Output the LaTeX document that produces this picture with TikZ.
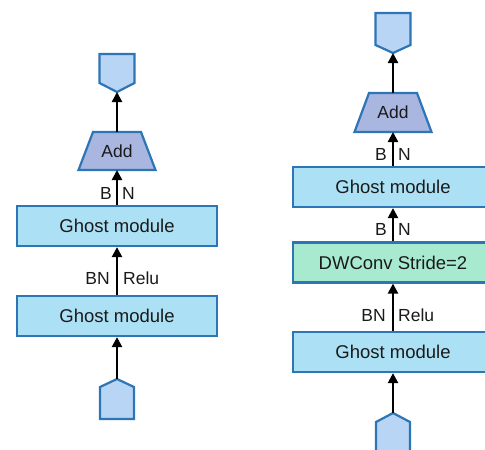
\documentclass[tikz,border=0pt]{standalone}
\usepackage{fontspec}
\setmainfont{Liberation Sans}
\usetikzlibrary{arrows.meta}

\definecolor{edge}{HTML}{2E75B6}
\definecolor{modfill}{HTML}{ACE1F5}
\definecolor{dwfill}{HTML}{A8EAD0}
\definecolor{portfill}{HTML}{B8D5F5}
\definecolor{addfill}{HTML}{A8B6E0}
\definecolor{ink}{HTML}{1A1A1A}

\tikzset{
  module/.style={draw=edge, line width=2.2pt, fill=modfill, minimum width=200pt,
    minimum height=40pt, inner sep=0pt, font=\fontsize{18.5}{20}\selectfont, text=ink},
  dwconv/.style={module, fill=dwfill},
  port/.style={draw=edge, line width=2.2pt, line join=miter, fill=portfill},
  addbox/.style={draw=edge, line width=2.2pt, line join=miter, fill=addfill},
  flow/.style={line width=2.3pt, -{Triangle[length=10pt,width=10pt]}},
  lbl/.style={font=\fontsize{17.5}{19}\selectfont, text=ink, inner sep=0pt},
}

\begin{document}
\begin{tikzpicture}[x=1pt, y=-1pt]
  \useasboundingbox (0,0) rectangle (485,450);
  \clip (0,0) rectangle (485,450);

  % ---------- left block: stride 1 ----------
  % output port (points down)
  \draw[port] (99.5,54) -- (134.5,54) -- (134.5,83) -- (117,92) -- (99.5,83) -- cycle;
  \coordinate (outL) at (117,92);
  % add
  \draw[addbox] (93,132) -- (141,132) -- (155.5,170) -- (78.5,170) -- cycle;
  \node[lbl] (addL) at (117,151) {Add};
  \coordinate (addLtop) at (117,132);
  \coordinate (addLbot) at (117,170);
  % ghost modules
  \node[module] (gL1) at (117,226) {Ghost module};
  \node[module] (gL2) at (117,316) {Ghost module};
  % input port (points up)
  \draw[port] (100,387) -- (117,379) -- (134,387) -- (134,419) -- (100,419) -- cycle;
  \coordinate (inL) at (117,379);

  \draw[flow] (addLtop) -- (outL);
  \draw[flow] (gL1.north) -- (addLbot);
  \draw[flow] (gL2.north) -- (gL1.south);
  \draw[flow] (inL) -- (gL2.south);

  \node[lbl, anchor=east] (bL1) at (112,193) {B};
  \node[lbl, anchor=west] (nL1) at (122,193) {N};
  \node[lbl, anchor=east] (bnL) at (110,278) {BN};
  \node[lbl, anchor=west] (reluL) at (123,278) {Relu};

  % ---------- right block: stride 2 ----------
  \draw[port] (375.5,13) -- (410.5,13) -- (410.5,45) -- (393,53) -- (375.5,45) -- cycle;
  \coordinate (outR) at (393,53);
  \draw[addbox] (369,93) -- (417,93) -- (431.5,132) -- (354.5,132) -- cycle;
  \node[lbl] (addR) at (393,112.5) {Add};
  \coordinate (addRtop) at (393,93);
  \coordinate (addRbot) at (393,132);
  \node[module] (gR1) at (393,187) {Ghost module};
  \node[dwconv] (dwR) at (393,262.5) {DWConv Stride=2};
  \node[module] (gR2) at (393,352) {Ghost module};
  \draw[port] (376,422) -- (393,413) -- (410,422) -- (410,462) -- (376,462) -- cycle;
  \coordinate (inR) at (393,413);

  \draw[flow] (addRtop) -- (outR);
  \draw[flow] (gR1.north) -- (addRbot);
  \draw[flow] (dwR.north) -- (gR1.south);
  \draw[flow] (gR2.north) -- (dwR.south);
  \draw[flow] (inR) -- (gR2.south);

  \node[lbl, anchor=east] (bR1) at (387,154) {B};
  \node[lbl, anchor=west] (nR1) at (398,154) {N};
  \node[lbl, anchor=east] (bR2) at (387,229) {B};
  \node[lbl, anchor=west] (nR2) at (398,229) {N};
  \node[lbl, anchor=east] (bnR) at (386,315) {BN};
  \node[lbl, anchor=west] (reluR) at (398,315) {Relu};
\end{tikzpicture}
\end{document}
